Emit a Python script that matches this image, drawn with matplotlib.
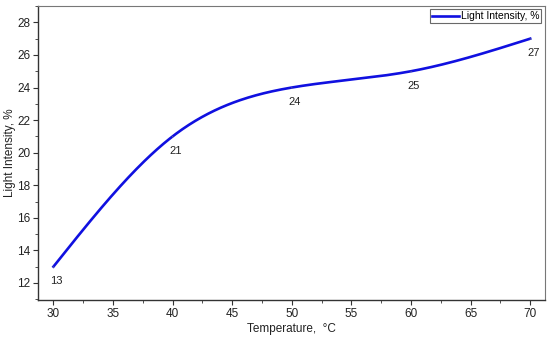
import numpy as np
import matplotlib
matplotlib.use("Agg")
import matplotlib.pyplot as plt
from matplotlib.ticker import MultipleLocator

plt.rcParams['font.family'] = ['Liberation Sans', 'DejaVu Sans']

# data
temperature = [30, 40, 50, 60, 70]
intensity = [13, 21, 24, 25, 27]
labels = ['13', '21', '24', '25', '27']


def spline(x, y, n=300):
    # natural cubic spline, just for the smooth connecting line
    x = np.asarray(x, float)
    y = np.asarray(y, float)
    k = len(x)
    h = np.diff(x)
    A = np.zeros((k, k))
    b = np.zeros(k)
    A[0, 0] = A[-1, -1] = 1
    for i in range(1, k - 1):
        A[i, i - 1] = h[i - 1]
        A[i, i] = 2 * (h[i - 1] + h[i])
        A[i, i + 1] = h[i]
        b[i] = 6 * ((y[i + 1] - y[i]) / h[i] - (y[i] - y[i - 1]) / h[i - 1])
    M = np.linalg.solve(A, b)
    xs = np.linspace(x[0], x[-1], n)
    ys = np.empty_like(xs)
    for j, t in enumerate(xs):
        i = min(np.searchsorted(x, t, side='right') - 1, k - 2)
        a, c = x[i + 1] - t, t - x[i]
        ys[j] = (M[i] * a**3 + M[i + 1] * c**3) / (6 * h[i]) \
            + (y[i] / h[i] - M[i] * h[i] / 6) * a \
            + (y[i + 1] / h[i] - M[i + 1] * h[i] / 6) * c
    return xs, ys


fig = plt.figure(figsize=(5.5, 3.39), dpi=100)
ax = fig.add_axes([0.069, 0.115, 0.921, 0.867])

xs, ys = spline(temperature, intensity)
ax.plot(xs, ys, color='#1010e0', lw=1.9, label='Light Intensity, %')

# value labels with small leader lines
for x, y, s in zip(temperature, intensity, labels):
    ax.annotate(s, xy=(x, y), xytext=(x + 0.25, y - 0.9), ha='center', va='center',
                fontsize=8, color='#222222',
                arrowprops=dict(arrowstyle='-', color='#777777', lw=0.6, shrinkA=4.5, shrinkB=1.5))

ax.set_xlim(28.7, 71.2)
ax.set_ylim(10.95, 29)
ax.xaxis.set_major_locator(MultipleLocator(5))
ax.xaxis.set_minor_locator(MultipleLocator(2.5))
ax.yaxis.set_major_locator(MultipleLocator(2))
ax.yaxis.set_minor_locator(MultipleLocator(1))
ax.tick_params(which='both', direction='out', colors='#333333', labelsize=8.5)
ax.tick_params(which='major', length=3.5, width=0.8)
ax.tick_params(which='minor', length=2, width=0.6)
ax.tick_params(axis='both', labelcolor='#222222', pad=2)

for side in ['top', 'right']:
    ax.spines[side].set_color('#777777')
for side in ['left', 'bottom']:
    ax.spines[side].set_color('#333333')
    ax.spines[side].set_linewidth(1.0)

ax.set_xlabel('Temperature,  °C', fontsize=8.5, color='#222222', va='center')
ax.set_ylabel('Light Intensity, %', fontsize=8.5, color='#222222', va='center')
ax.xaxis.set_label_coords(0.5, -0.097)
ax.yaxis.set_label_coords(-0.055, 0.5)

leg = ax.legend(loc='upper right', fontsize=7.5, frameon=True, fancybox=False,
                borderpad=0.2, handlelength=2.6, handletextpad=0.2,
                borderaxespad=0.3)
leg.get_frame().set_edgecolor('#444444')
leg.get_frame().set_linewidth(0.8)

fig.savefig('out.png', dpi=100)
